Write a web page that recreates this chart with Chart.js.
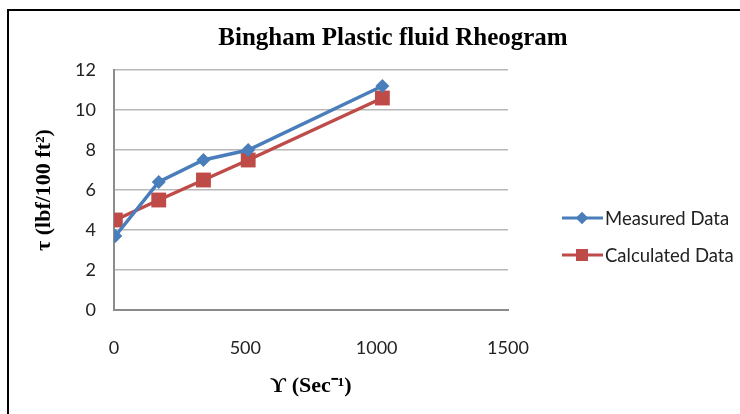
<!DOCTYPE html>
<html>
<head>
<meta charset="utf-8">
<title>Bingham Plastic fluid Rheogram</title>
<script src="https://cdn.jsdelivr.net/npm/chart.js@4"></script>
<style>
  html, body { margin: 0; padding: 0; background: #fff; }
  #wrap { width: 740px; height: 414px; }
</style>
</head>
<body>
<div id="wrap"><canvas id="rheoChart" width="740" height="414"></canvas></div>
<script>
// shear rate (1/s) and shear stress (lbf/100 ft2)
const shearRate = [5.11, 170.3, 340.6, 510.9, 1021.8];
const measuredStress = [3.7, 6.4, 7.5, 8.0, 11.2];
const calculatedStress = [4.5, 5.5, 6.5, 7.5, 10.6];

const xTicks = [0, 500, 1000, 1500];
const yTicks = [0, 2, 4, 6, 8, 10, 12];

const chartTitle = 'Bingham Plastic fluid Rheogram';
const seriesNames = ['Measured Data', 'Calculated Data'];
const blue = '#4a7ebb';
const red = '#be4b48';

const serif = '"Liberation Serif", "Times New Roman", serif';
const sans = 'Lato, "Open Sans", sans-serif';

const toPoints = (xs, ys) => xs.map((x, i) => ({ x: x, y: ys[i] }));

// frame, title and legend drawn straight onto the canvas
const framePlugin = {
  id: 'frameAndLegend',
  afterDraw(chart) {
    const c = chart.ctx;
    c.save();
    c.strokeStyle = '#000';
    c.lineWidth = 2;
    c.beginPath();
    c.moveTo(8, 414);
    c.lineTo(8, 10);
    c.lineTo(740, 10);
    c.stroke();

    c.fillStyle = '#000';
    c.font = 'bold 25px ' + serif;
    c.textAlign = 'center';
    c.textBaseline = 'middle';
    c.fillText(chartTitle, 393, 39);

    const rows = [
      { label: seriesNames[0], color: blue, style: 'rectRot', r: 6, y: 218 },
      { label: seriesNames[1], color: red, style: 'rect', r: 8.5, y: 255 }
    ];
    rows.forEach(row => {
      c.strokeStyle = row.color;
      c.lineWidth = 3;
      c.beginPath();
      c.moveTo(562, row.y);
      c.lineTo(603, row.y);
      c.stroke();
      c.fillStyle = row.color;
      Chart.helpers.drawPoint(c, { pointStyle: row.style, radius: row.r, borderWidth: 0 }, 582, row.y);
      c.fill();
      c.fillStyle = '#222';
      c.font = '18.5px ' + sans;
      c.textBaseline = 'middle';
      c.textAlign = 'left';
      c.fillText(row.label, 605, row.y + 1);
    });
    c.restore();
  }
};

const ctx = document.getElementById('rheoChart').getContext('2d');
const chart = new Chart(ctx, {
  type: 'line',
  data: {
    datasets: [
      {
        label: seriesNames[0],
        data: toPoints(shearRate, measuredStress),
        borderColor: blue,
        backgroundColor: blue,
        borderWidth: 3.5,
        pointStyle: 'rectRot',
        pointRadius: 7,
        pointBorderWidth: 0,
        tension: 0
      },
      {
        label: seriesNames[1],
        data: toPoints(shearRate, calculatedStress),
        borderColor: red,
        backgroundColor: red,
        borderWidth: 3.5,
        pointStyle: 'rect',
        pointRadius: 10.5,
        pointBorderWidth: 0,
        tension: 0
      }
    ]
  },
  options: {
    responsive: false,
    animation: false,
    layout: {
      padding: { left: 10, right: 232, top: 70, bottom: 0 }
    },
    plugins: {
      legend: { display: false },
      tooltip: { enabled: false },
      title: { display: false }
    },
    scales: {
      x: {
        type: 'linear',
        min: 0,
        max: 1500,
        afterBuildTicks: axis => { axis.ticks = xTicks.map(v => ({ value: v })); },
        afterFit: axis => { axis.height = 104; },
        grid: { display: false, drawTicks: false },
        border: { display: true, color: '#8c8c8c', width: 2 },
        ticks: {
          padding: 27,
          color: '#222',
          font: { family: sans, size: 18 },
          callback: v => String(v)
        },
        title: {
          display: true,
          text: 'ϒ (Sec⁻¹)',
          color: '#000',
          font: { family: serif, size: 22, weight: 'bold' },
          padding: { top: 0, bottom: 14 }
        }
      },
      y: {
        min: 0,
        max: 12,
        afterBuildTicks: axis => { axis.ticks = yTicks.map(v => ({ value: v })); },
        afterFit: axis => { axis.width = 104; },
        grid: { color: '#b8b8b8', lineWidth: 1.5, drawTicks: false },
        border: { display: true, color: '#8c8c8c', width: 2 },
        ticks: {
          padding: 18,
          color: '#222',
          font: { family: sans, size: 18 }
        },
        title: {
          display: true,
          text: 'τ (lbf/100 ft²)',
          color: '#000',
          font: { family: serif, size: 22, weight: 'bold' },
          padding: { top: 21, bottom: 0 }
        }
      }
    }
  },
  plugins: [framePlugin]
});
</script>
</body>
</html>
